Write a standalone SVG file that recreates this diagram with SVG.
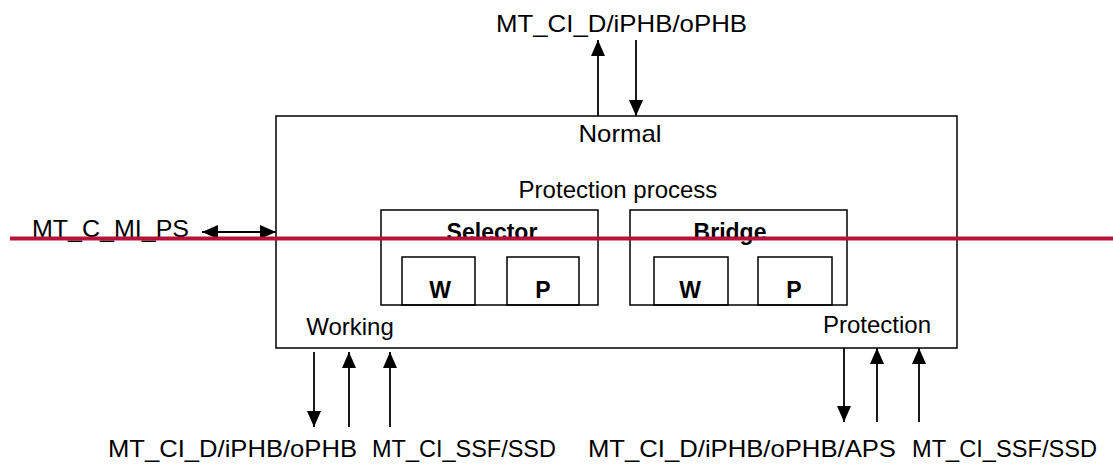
<svg xmlns="http://www.w3.org/2000/svg" width="1113" height="473" viewBox="0 0 1113 473">
<style>
.box{fill:none;stroke:#000;stroke-width:1.5}
.ln{fill:none;stroke:#000;stroke-width:1.8}
.t{font-family:"Liberation Sans",Arial,sans-serif;font-size:24px;fill:#000}
.b{font-family:"Liberation Sans",Arial,sans-serif;font-size:23px;font-weight:bold;fill:#000}
</style>
<defs>
<marker id="ah" viewBox="0 0 16 14" refX="16" refY="7" markerWidth="16" markerHeight="14" markerUnits="userSpaceOnUse" orient="auto-start-reverse">
<path d="M0,0 L16,7 L0,14 Z" fill="#000"/>
</marker>
</defs>
<rect width="1113" height="473" fill="#fff"/>
<g id="main">
<rect class="box" x="276" y="116" width="681" height="232"/>
<text class="t" x="620" y="142" text-anchor="middle" textLength="83" lengthAdjust="spacingAndGlyphs">Normal</text>
<text class="t" x="618" y="198" text-anchor="middle">Protection process</text>
<text class="t" x="350" y="335" text-anchor="middle">Working</text>
<text class="t" x="877" y="333" text-anchor="middle">Protection</text>
</g>
<g id="selector">
<rect class="box" x="381" y="210" width="217" height="95"/>
<text class="b" x="492" y="240" text-anchor="middle">Selector</text>
</g>
<g id="selector-w">
<rect class="box" x="402" y="257" width="73" height="48"/>
<text class="b" x="440" y="298" text-anchor="middle">W</text>
</g>
<g id="selector-p">
<rect class="box" x="507" y="257" width="72" height="48"/>
<text class="b" x="543" y="298" text-anchor="middle">P</text>
</g>
<g id="bridge">
<rect class="box" x="630" y="210" width="217" height="95"/>
<text class="b" x="730" y="240" text-anchor="middle">Bridge</text>
</g>
<g id="bridge-w">
<rect class="box" x="654" y="257" width="74" height="48"/>
<text class="b" x="690" y="298" text-anchor="middle">W</text>
</g>
<g id="bridge-p">
<rect class="box" x="758" y="257" width="74" height="48"/>
<text class="b" x="794" y="298" text-anchor="middle">P</text>
</g>
<g id="labels">
<text class="t" x="496" y="32" textLength="251" lengthAdjust="spacingAndGlyphs">MT_CI_D/iPHB/oPHB</text>
<text class="t" x="32" y="237" textLength="157" lengthAdjust="spacingAndGlyphs">MT_C_MI_PS</text>
<text class="t" x="108" y="457" textLength="249" lengthAdjust="spacingAndGlyphs">MT_CI_D/iPHB/oPHB</text>
<text class="t" x="372" y="457" textLength="184" lengthAdjust="spacingAndGlyphs">MT_CI_SSF/SSD</text>
<text class="t" x="588" y="457" textLength="308" lengthAdjust="spacingAndGlyphs">MT_CI_D/iPHB/oPHB/APS</text>
<text class="t" x="912" y="457" textLength="185" lengthAdjust="spacingAndGlyphs">MT_CI_SSF/SSD</text>
</g>
<g id="connectors">
<line class="ln" x1="598" y1="116" x2="598" y2="40" marker-end="url(#ah)"/>
<line class="ln" x1="636" y1="40" x2="636" y2="116" marker-end="url(#ah)"/>
<line class="ln" x1="202" y1="232" x2="276" y2="232" marker-start="url(#ah)" marker-end="url(#ah)"/>
<line class="ln" x1="314" y1="352" x2="314" y2="427" marker-end="url(#ah)"/>
<line class="ln" x1="349" y1="427" x2="349" y2="352" marker-end="url(#ah)"/>
<line class="ln" x1="390" y1="427" x2="390" y2="352" marker-end="url(#ah)"/>
<line class="ln" x1="844" y1="348" x2="844" y2="422" marker-end="url(#ah)"/>
<line class="ln" x1="877" y1="422" x2="877" y2="348" marker-end="url(#ah)"/>
<line class="ln" x1="919" y1="422" x2="919" y2="348" marker-end="url(#ah)"/>
</g>
<line id="redline" x1="10" y1="238.5" x2="1113" y2="238.5" stroke="#B8123B" stroke-width="4"/>
</svg>
